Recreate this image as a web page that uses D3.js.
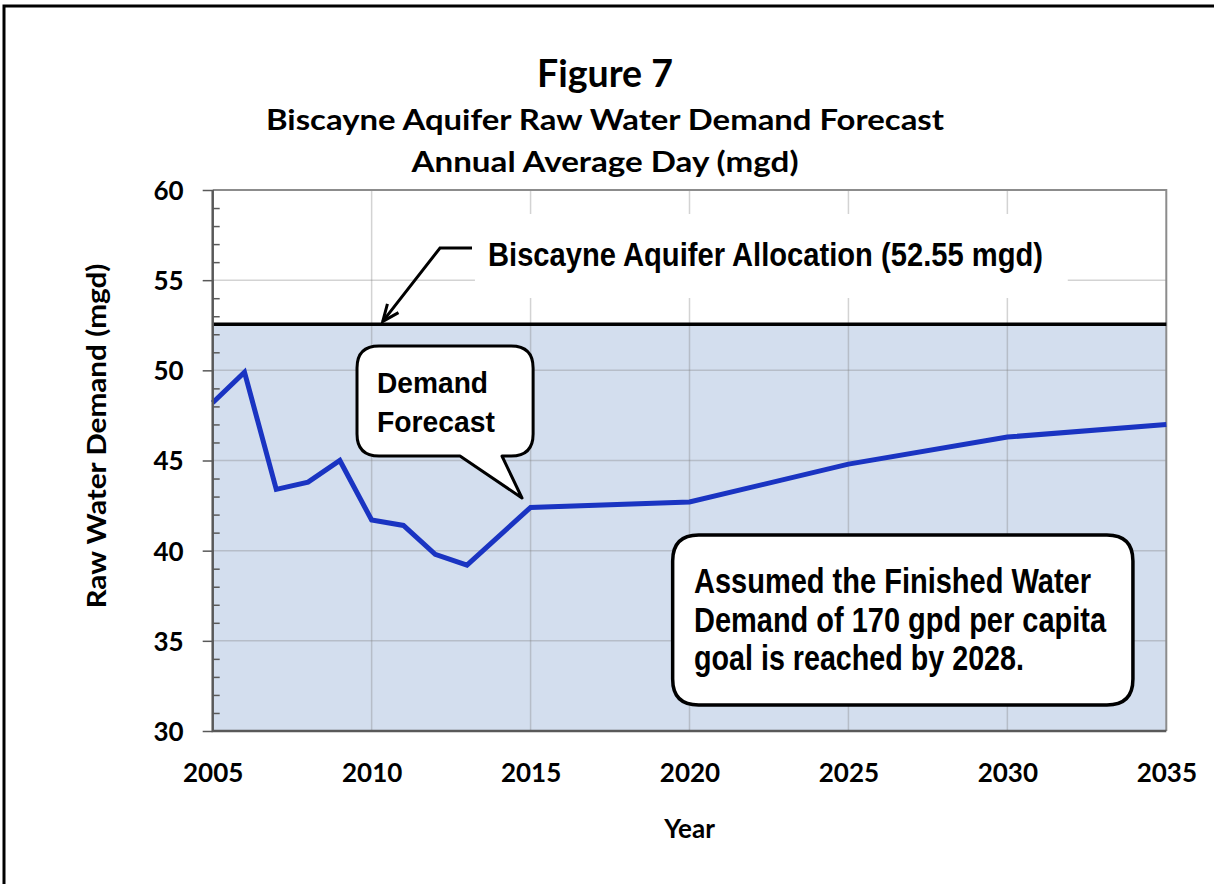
<!DOCTYPE html>
<html>
<head>
<meta charset="utf-8">
<script src="https://cdn.jsdelivr.net/npm/d3@7"></script>
<style>
  html, body { margin: 0; padding: 0; background: #fff; }
  svg { display: block; }
  .calibri { font-family: Lato, "Open Sans", sans-serif; font-weight: 700; fill: #000; }
  .narrow { font-family: "Liberation Sans Narrow", "Arial Narrow", "Liberation Sans", Arial, sans-serif; font-weight: 700; fill: #000; }
</style>
</head>
<body>
<svg id="chart" width="1214" height="884"></svg>
<script>
// Data
const years = [2005, 2006, 2007, 2008, 2009, 2010, 2011, 2012, 2013, 2015, 2020, 2025, 2030, 2035];
const demand = [48.2, 49.9, 43.4, 43.8, 45.0, 41.7, 41.4, 39.8, 39.2, 42.4, 42.7, 44.8, 46.3, 47.0];
const allocation = 52.55;
const yearTicks = [2005, 2010, 2015, 2020, 2025, 2030, 2035];
const demandTicks = [30, 35, 40, 45, 50, 55, 60];
const minorTicks = d3.range(31, 60).filter((v) => v % 5 !== 0);

const titleLines = [
  "Figure 7",
  "Biscayne Aquifer Raw Water Demand Forecast",
  "Annual Average Day (mgd)"
];
const allocationLabel = "Biscayne Aquifer Allocation (52.55 mgd)";
const bubbleLines = ["Demand", "Forecast"];
const noteLines = [
  "Assumed the Finished Water",
  "Demand of 170 gpd per capita",
  "goal is reached by 2028."
];

const svg = d3.select("#chart");

// scales
const x = d3.scaleLinear().domain([2005, 2035]).range([212.7, 1166.3]);
const y = d3.scaleLinear().domain([30, 60]).range([731, 190]);

// outer frame
svg.append("rect")
  .attr("x", 4).attr("y", 6)
  .attr("width", 1400).attr("height", 1000)
  .attr("fill", "none")
  .attr("stroke", "#000")
  .attr("stroke-width", 3);

// titles
const titleSpec = [
  { size: 38, base: 87, len: 136 },
  { size: 29, base: 130, len: 678 },
  { size: 29, base: 172, len: 387 }
];
svg.append("g")
  .selectAll("text")
  .data(titleLines)
  .enter()
  .append("text")
  .attr("class", "calibri")
  .attr("x", 605)
  .attr("y", (d, i) => titleSpec[i].base)
  .attr("text-anchor", "middle")
  .attr("font-size", (d, i) => titleSpec[i].size)
  .attr("textLength", (d, i) => titleSpec[i].len)
  .attr("lengthAdjust", "spacingAndGlyphs")
  .text((d) => d);

// plot area: shaded below allocation
const plot = svg.append("g").attr("class", "plot");

plot.append("rect")
  .attr("x", x(2005))
  .attr("y", y(allocation))
  .attr("width", x(2035) - x(2005))
  .attr("height", y(30) - y(allocation))
  .attr("fill", "#d3deee");

// gridlines
plot.append("g")
  .selectAll("line")
  .data(demandTicks.filter((d) => d > 30 && d < 60))
  .enter()
  .append("line")
  .attr("x1", x(2005)).attr("x2", x(2035))
  .attr("y1", (d) => y(d)).attr("y2", (d) => y(d))
  .attr("stroke", "#808080")
  .attr("stroke-opacity", 0.35)
  .attr("stroke-width", 1.5);

plot.append("g")
  .selectAll("line")
  .data(yearTicks.filter((d) => d > 2005 && d < 2035))
  .enter()
  .append("line")
  .attr("x1", (d) => x(d)).attr("x2", (d) => x(d))
  .attr("y1", y(60)).attr("y2", y(30))
  .attr("stroke", "#808080")
  .attr("stroke-opacity", 0.35)
  .attr("stroke-width", 1.5);

// plot border (top / right)
plot.append("path")
  .attr("d", `M${x(2005)},${y(60)}H${x(2035)}V${y(30)}`)
  .attr("fill", "none")
  .attr("stroke", "#8c8c8c")
  .attr("stroke-width", 2);

// allocation label with white backing
const lab = svg.append("g");
lab.append("rect")
  .attr("x", x(2013.25)).attr("y", 214)
  .attr("width", x(2031.9) - x(2013.25)).attr("height", 84)
  .attr("fill", "#fff");
lab.append("text")
  .attr("class", "narrow")
  .attr("x", 488).attr("y", 266)
  .attr("font-size", 33)
  .attr("textLength", 555)
  .attr("lengthAdjust", "spacingAndGlyphs")
  .text(allocationLabel);

// leader arrow
const tipX = x(2010.35), tipY = y(allocation) - 3;
lab.append("path")
  .attr("d", `M472,248H440L${tipX},${tipY}`)
  .attr("fill", "none")
  .attr("stroke", "#000")
  .attr("stroke-width", 3);
const ang = Math.atan2(tipY - 248, tipX - 440);
const head = [ang + Math.PI - 0.4, ang + Math.PI + 0.4].map((a) => [tipX + 18 * Math.cos(a), tipY + 18 * Math.sin(a)]);
lab.append("path")
  .attr("d", `M${head[0][0]},${head[0][1]}L${tipX},${tipY}L${head[1][0]},${head[1][1]}`)
  .attr("fill", "none")
  .attr("stroke", "#000")
  .attr("stroke-width", 3);

// allocation line
svg.append("line")
  .attr("x1", x(2005)).attr("x2", x(2035))
  .attr("y1", y(allocation)).attr("y2", y(allocation))
  .attr("stroke", "#000")
  .attr("stroke-width", 3.5);

// demand line
const line = d3.line()
  .x((d, i) => x(years[i]))
  .y((d) => y(d));

svg.append("path")
  .datum(demand)
  .attr("d", line)
  .attr("fill", "none")
  .attr("stroke", "#1a34c2")
  .attr("stroke-width", 5)
  .attr("stroke-linejoin", "miter");

// axes
const yAxis = svg.append("g")
  .attr("transform", `translate(${x(2005)},0)`)
  .call(d3.axisLeft(y).tickValues(demandTicks).tickSize(10).tickPadding(19).tickFormat(d3.format("d")));
yAxis.select(".domain").remove();
yAxis.selectAll("line").attr("stroke", "#595959").attr("stroke-width", 1.5);
yAxis.selectAll("text")
  .attr("class", "calibri")
  .attr("font-size", 26)
  .attr("dy", "0.36em");

const yMinor = svg.append("g")
  .attr("transform", `translate(${x(2005)},0)`)
  .call(d3.axisRight(y).tickValues(minorTicks).tickSize(7).tickFormat(""));
yMinor.select(".domain").remove();
yMinor.selectAll("line").attr("stroke", "#595959").attr("stroke-width", 1.5);

const xAxis = svg.append("g")
  .attr("transform", `translate(0,${y(30)})`)
  .call(d3.axisBottom(x).tickValues(yearTicks).tickSize(0).tickPadding(33).tickFormat(d3.format("d")));
xAxis.select(".domain").remove();
xAxis.selectAll("text")
  .attr("class", "calibri")
  .attr("font-size", 26);

// axis lines
svg.append("path")
  .attr("d", `M${x(2005)},${y(60)}V${y(30)}H${x(2035)}`)
  .attr("fill", "none")
  .attr("stroke", "#595959")
  .attr("stroke-width", 2.5);

// axis titles
svg.append("text")
  .attr("class", "calibri")
  .attr("x", (x(2005) + x(2035)) / 2)
  .attr("y", 838)
  .attr("text-anchor", "middle")
  .attr("font-size", 26)
  .text("Year");

svg.append("text")
  .attr("class", "calibri")
  .attr("transform", "translate(106,436) rotate(-90)")
  .attr("text-anchor", "middle")
  .attr("font-size", 26)
  .attr("textLength", 345)
  .attr("lengthAdjust", "spacingAndGlyphs")
  .text("Raw Water Demand (mgd)");

// callout helpers
function roundRect(l, t, r, b, rad) {
  return `M${l + rad},${t}H${r - rad}Q${r},${t} ${r},${t + rad}V${b - rad}Q${r},${b} ${r - rad},${b}` +
    `H${l + rad}Q${l},${b} ${l},${b - rad}V${t + rad}Q${l},${t} ${l + rad},${t}Z`;
}

// "Demand Forecast" bubble with tail pointing at the 2015 value
const bL = x(2009.54), bR = x(2015.08), bT = y(51.35), bB = y(45.25), bRad = 22;
const tail1 = x(2012.78), tail2 = x(2014.1), tail = [x(2014.73), y(42.92)];
const bubble = svg.append("g");
bubble.append("path")
  .attr("d",
    `M${bL + bRad},${bT}H${bR - bRad}Q${bR},${bT} ${bR},${bT + bRad}V${bB - bRad}Q${bR},${bB} ${bR - bRad},${bB}` +
    `H${tail2}L${tail[0]},${tail[1]}L${tail1},${bB}` +
    `H${bL + bRad}Q${bL},${bB} ${bL},${bB - bRad}V${bT + bRad}Q${bL},${bT} ${bL + bRad},${bT}Z`)
  .attr("fill", "#fff")
  .attr("stroke", "#000")
  .attr("stroke-width", 3)
  .attr("stroke-linejoin", "round");
const bubbleLen = [111, 118];
bubble.selectAll("text")
  .data(bubbleLines)
  .enter()
  .append("text")
  .attr("class", "narrow")
  .attr("x", 377)
  .attr("y", (d, i) => 393 + i * 39)
  .attr("font-size", 30)
  .attr("textLength", (d, i) => bubbleLen[i])
  .attr("lengthAdjust", "spacingAndGlyphs")
  .text((d) => d);

// note box
const note = svg.append("g");
note.append("path")
  .attr("d", roundRect(x(2019.47), y(40.87), x(2033.95), y(31.44), 26))
  .attr("fill", "#fff")
  .attr("stroke", "#000")
  .attr("stroke-width", 3.5);
const noteLen = [397, 412, 330];
note.selectAll("text")
  .data(noteLines)
  .enter()
  .append("text")
  .attr("class", "narrow")
  .attr("x", 694)
  .attr("y", (d, i) => 593 + i * 38.5)
  .attr("font-size", 35)
  .attr("textLength", (d, i) => noteLen[i])
  .attr("lengthAdjust", "spacingAndGlyphs")
  .text((d) => d);
</script>
</body>
</html>
